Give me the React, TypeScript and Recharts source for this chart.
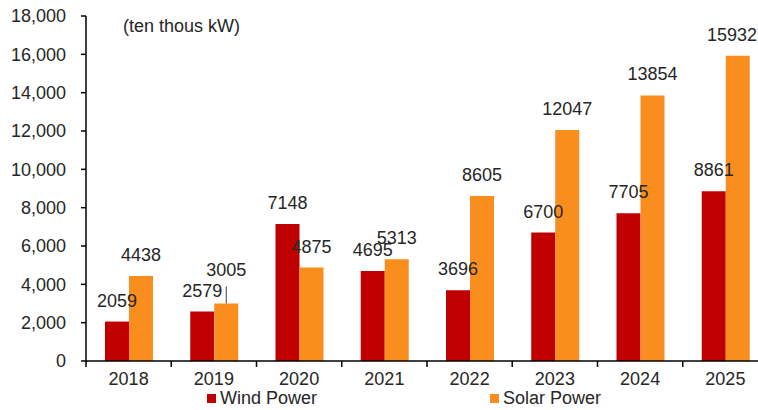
import { Bar, BarChart, LabelList, Legend, XAxis, YAxis } from 'recharts';

const years = ['2018', '2019', '2020', '2021', '2022', '2023', '2024', '2025'];
const windPower = [2059, 2579, 7148, 4695, 3696, 6700, 7705, 8861];
const solarPower = [4438, 3005, 4875, 5313, 8605, 12047, 13854, 15932];
const yTicks = [0, 2000, 4000, 6000, 8000, 10000, 12000, 14000, 16000, 18000];

const data = years.map((year, i) => ({
  year,
  wind: windPower[i],
  solar: solarPower[i],
}));

const WIND = '#C00000';
const SOLAR = '#F98E1E';
const TEXT = '#262626';
const FONT = '"Liberation Sans", Arial, sans-serif';

const CHART_W = 770;
const CHART_H = 410;
const VIEW_W = 758;
const PLOT_LEFT = 86;
const PLOT_RIGHT = 768;
const BAND = (PLOT_RIGHT - PLOT_LEFT) / years.length;

const XTick = (props: any) => {
  const { x, y, payload, index } = props;
  const axisY = y - 11;
  return (
    <g>
      <line x1={x - BAND / 2} x2={x - BAND / 2} y1={axisY} y2={axisY + 6} stroke="#000" strokeWidth={1.5} />
      {index === years.length - 1 && (
        <line x1={x + BAND / 2} x2={x + BAND / 2} y1={axisY} y2={axisY + 6} stroke="#000" strokeWidth={1.5} />
      )}
      <text x={x} y={y} dy="0.71em" textAnchor="middle" fontSize={18} fill={TEXT}>
        {payload.value}
      </text>
    </g>
  );
};

// the 2019 solar label sits higher with a short leader line
const makeLabel = (series: string) => (props: any) => {
  const { x, y, width, value, index } = props;
  const cx = x + width / 2;
  const half = String(value).length * 5;
  const tx = Math.min(cx, VIEW_W - 1 - half);
  const raised = series === 'solar' && index === 1;
  return (
    <g>
      {raised && <line x1={cx} x2={cx} y1={y - 17} y2={y} stroke="#404040" strokeWidth={1} />}
      <text x={tx} y={raised ? y - 27 : y - 15} textAnchor="middle" fontSize={18} fill={TEXT}>
        {value}
      </text>
    </g>
  );
};

const renderLegend = () => {
  const items = [
    { label: 'Wind Power', color: WIND, left: 207 },
    { label: 'Solar Power', color: SOLAR, left: 490 },
  ];
  return (
    <div style={{ position: 'relative', height: 20 }}>
      {items.map((it) => (
        <div
          key={it.label}
          style={{
            position: 'absolute',
            left: it.left,
            top: 0,
            display: 'flex',
            alignItems: 'center',
            fontSize: 18,
            lineHeight: '20px',
            color: TEXT,
            whiteSpace: 'nowrap',
          }}
        >
          <span style={{ display: 'inline-block', width: 9, height: 9, background: it.color, marginRight: 4 }} />
          {it.label}
        </div>
      ))}
    </div>
  );
};

export default function App() {
  return (
    <div
      style={{
        position: 'absolute',
        left: 0,
        top: 0,
        width: VIEW_W,
        height: CHART_H,
        overflow: 'hidden',
        fontFamily: FONT,
        background: '#fff',
      }}
    >
      <BarChart
        width={CHART_W}
        height={CHART_H}
        data={data}
        margin={{ top: 16, right: CHART_W - PLOT_RIGHT, bottom: 0, left: 0 }}
        barGap={0}
      >
        <text x={123} y={32} fontSize={18} fill={TEXT}>
          (ten thous kW)
        </text>
        <YAxis
          width={PLOT_LEFT}
          domain={[0, 18000]}
          ticks={yTicks}
          interval={0}
          tickFormatter={(v: number) => v.toLocaleString('en-US')}
          tick={{ fontSize: 18, fill: TEXT }}
          tickSize={5}
          tickMargin={15}
          axisLine={{ stroke: '#000', strokeWidth: 1.5 }}
          tickLine={{ stroke: '#000', strokeWidth: 1.5 }}
        />
        <XAxis
          dataKey="year"
          height={49}
          interval={0}
          tick={<XTick />}
          tickLine={false}
          tickSize={0}
          tickMargin={11}
          axisLine={{ stroke: '#000', strokeWidth: 1.5 }}
        />
        <Legend
          verticalAlign="middle"
          align="center"
          layout="horizontal"
          content={renderLegend}
          wrapperStyle={{ top: 388, left: 0, width: CHART_W }}
        />
        <Bar dataKey="wind" name="Wind Power" fill={WIND} barSize={24} isAnimationActive={false}>
          <LabelList dataKey="wind" content={makeLabel('wind')} />
        </Bar>
        <Bar dataKey="solar" name="Solar Power" fill={SOLAR} barSize={24} isAnimationActive={false}>
          <LabelList dataKey="solar" content={makeLabel('solar')} />
        </Bar>
      </BarChart>
    </div>
  );
}
